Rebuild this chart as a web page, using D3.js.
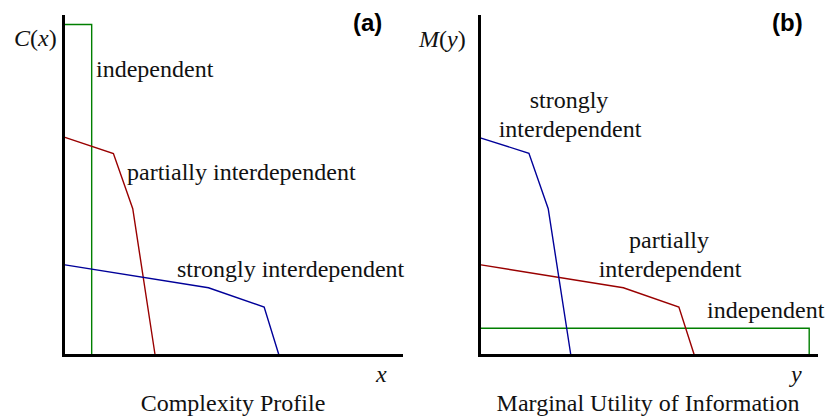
<!DOCTYPE html>
<html>
<head>
<meta charset="utf-8">
<script src="https://cdn.jsdelivr.net/npm/d3@7"></script>
<style>
  html, body { margin: 0; padding: 0; background: #fff; }
  svg { display: block; }
</style>
</head>
<body>
<svg id="chart" width="825" height="416"></svg>
<script>
// ---- Data (arbitrary units, axes 0..10) ----
// Panel (a): Complexity Profile C(x)
const aIndependentX = [0, 0.83, 0.83];
const aIndependentY = [9.72, 9.72, 0];
const aPartialX = [0, 1.47, 2.04, 2.70];
const aPartialY = [6.42, 5.93, 4.31, 0];
const aStrongX = [0, 4.27, 5.91, 6.35];
const aStrongY = [2.67, 1.99, 1.42, 0];

// Panel (b): Marginal Utility of Information M(y)
const bStrongX = [0, 1.46, 2.03, 2.70];
const bStrongY = [6.40, 5.94, 4.31, 0];
const bPartialX = [0, 4.25, 5.89, 6.35];
const bPartialY = [2.67, 1.99, 1.42, 0];
const bIndependentX = [0, 9.74, 9.74];
const bIndependentY = [0.80, 0.80, 0];

const colors = { independent: "#007f00", partial: "#990000", strong: "#000099" };

const SERIF = "'Liberation Serif', 'Times New Roman', Times, serif";
const SANS = "'Liberation Sans', Arial, Helvetica, sans-serif";

const svg = d3.select("#chart");

function zip(xs, ys) { return xs.map((x, i) => [x, ys[i]]); }

function panel(cfg) {
  const x = d3.scaleLinear().domain([0, 10]).range([cfg.x0, cfg.x1]);
  const y = d3.scaleLinear().domain([0, 10]).range([355.5, 15]);
  const g = svg.append("g");
  const line = d3.line().x(d => x(d[0])).y(d => y(d[1]));

  cfg.series.forEach(s => {
    g.append("path")
      .datum(zip(s.x, s.y))
      .attr("d", line)
      .attr("fill", "none")
      .attr("stroke", s.color)
      .attr("stroke-width", 1.4)
      .attr("stroke-linejoin", "miter");
  });

  // axes (no ticks)
  const xAxis = d3.axisBottom(x).tickValues([]).tickSizeOuter(0);
  const yAxis = d3.axisLeft(y).tickValues([]).tickSizeOuter(0);
  const gx = g.append("g").attr("transform", `translate(0,${y(0)})`).call(xAxis);
  const gy = g.append("g").attr("transform", `translate(${x(0)},0)`).call(yAxis);
  [gx, gy].forEach(a => a.select(".domain").attr("stroke", "#000").attr("stroke-width", 3));
  gy.select(".domain").attr("d", `M0,${y(10)}V${y(0) + 1.5}`);
  gx.select(".domain").attr("d", `M${x(0) - 1.5},0H${x(10)}`);
  return { x, y, g };
}

panel({
  x0: 63.5, x1: 403,
  series: [
    { x: aIndependentX, y: aIndependentY, color: colors.independent },
    { x: aPartialX, y: aPartialY, color: colors.partial },
    { x: aStrongX, y: aStrongY, color: colors.strong }
  ]
});
panel({
  x0: 479.5, x1: 818,
  series: [
    { x: bIndependentX, y: bIndependentY, color: colors.independent },
    { x: bPartialX, y: bPartialY, color: colors.partial },
    { x: bStrongX, y: bStrongY, color: colors.strong }
  ]
});

function base(x, y, anchor) {
  return svg.append("text")
    .attr("x", x).attr("y", y)
    .attr("font-family", SERIF)
    .attr("font-size", 24)
    .attr("fill", "#111")
    .attr("text-anchor", anchor || "start");
}
function text(x, y, str, anchor) { return base(x, y, anchor).text(str); }
function fnLabel(x, y, f, v) {
  const t = base(x, y);
  t.append("tspan").attr("font-style", "italic").text(f);
  t.append("tspan").text("(");
  t.append("tspan").attr("font-style", "italic").text(v);
  t.append("tspan").text(")");
}
function panelLabel(x, y, str) {
  svg.append("text").attr("x", x).attr("y", y)
    .attr("font-family", SANS).attr("font-size", 24).attr("font-weight", "bold")
    .attr("fill", "#000").text(str);
}

// Panel (a) labels
fnLabel(14, 46, "C", "x");
panelLabel(353, 31, "(a)");
text(96, 77, "independent");
text(127, 180, "partially interdependent");
text(177, 277, "strongly interdependent");
base(376, 382).attr("font-style", "italic").text("x");
text(233, 411, "Complexity Profile", "middle");

// Panel (b) labels
fnLabel(419, 47, "M", "y");
panelLabel(772, 31, "(b)");
text(569, 108, "strongly", "middle");
text(570, 137, "interdependent", "middle");
text(669, 248, "partially", "middle");
text(670, 277, "interdependent", "middle");
text(707, 318, "independent");
base(791, 382).attr("font-style", "italic").text("y");
text(648, 411, "Marginal Utility of Information", "middle");
</script>
</body>
</html>
